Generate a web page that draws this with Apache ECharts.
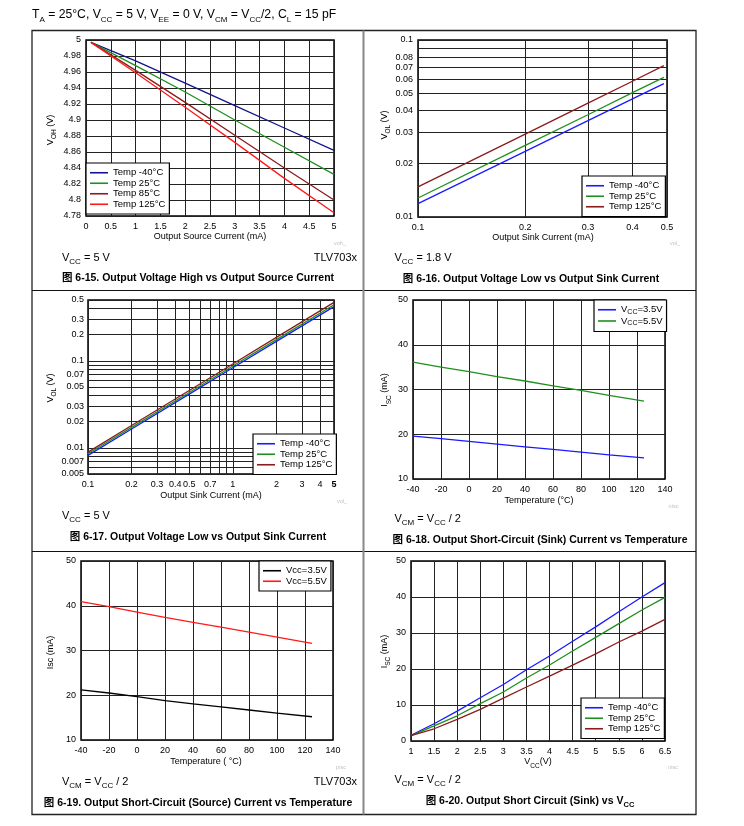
<!DOCTYPE html>
<html>
<head>
<meta charset="utf-8">
<script src="https://cdn.jsdelivr.net/npm/echarts@6/dist/echarts.min.js"></script>
<style>html,body{margin:0;padding:0;background:#fff}#c{width:744px;height:826px}</style>
</head>
<body>
<div id="c"></div>
<script>
// ---------- data ----------
const p1X = [0.1, 1, 2, 3, 4, 5];
const p1M40 = [4.997, 4.974, 4.946, 4.918, 4.890, 4.862];
const p1T25 = [4.997, 4.968, 4.935, 4.900, 4.866, 4.832];
const p1T85 = [4.997, 4.962, 4.922, 4.881, 4.840, 4.800];
const p1T125 = [4.997, 4.959, 4.916, 4.872, 4.827, 4.784];

const p2X = [0.1, 0.2, 0.3, 0.4, 0.49];
const p2M40 = [0.0119, 0.0235, 0.0350, 0.0465, 0.0567];
const p2T25 = [0.0128, 0.0254, 0.0378, 0.0504, 0.0615];
const p2T125 = [0.0148, 0.0294, 0.0440, 0.0585, 0.0716];

const p3X = [0.1, 0.2, 0.5, 1, 2, 5];
const p3M40 = [0.00818, 0.01644, 0.0414, 0.0832, 0.1671, 0.420];
const p3T25 = [0.00855, 0.01718, 0.0433, 0.0871, 0.175, 0.4416];
const p3T125 = [0.00893, 0.01803, 0.0456, 0.0920, 0.1858, 0.470];

const p4X = [-40, -20, 0, 20, 40, 60, 80, 100, 125];
const p4V35 = [19.6, 19.0, 18.4, 17.8, 17.2, 16.6, 16.0, 15.4, 14.7];
const p4V55 = [36.1, 35.0, 34.0, 32.9, 31.9, 30.8, 29.8, 28.7, 27.4];

const p5X = [-40, -20, 0, 20, 40, 60, 80, 100, 125];
const p5V35 = [21.2, 20.5, 19.7, 18.8, 18.05, 17.4, 16.7, 16.0, 15.2];
const p5V55 = [40.9, 39.8, 38.6, 37.4, 36.3, 35.2, 34.1, 33.0, 31.6];

const p6X = [1, 1.5, 2, 2.5, 3, 3.5, 4, 4.5, 5, 5.5, 6, 6.5];
const p6M40 = [1.6, 4.8, 8.3, 12.0, 15.7, 19.8, 23.6, 27.7, 31.7, 35.9, 40.0, 44.0];
const p6T25 = [1.5, 4.2, 7.0, 10.4, 13.6, 17.5, 21.1, 25.0, 28.8, 32.6, 36.4, 39.9];
const p6T125 = [1.5, 3.4, 6.0, 8.8, 11.9, 15.0, 18.0, 21.1, 24.2, 27.5, 30.5, 33.8];

// tick values for log axes
const p2XTicks = [0.1, 0.2, 0.3, 0.4, 0.5];
const p2YTicks = [0.01, 0.02, 0.03, 0.04, 0.05, 0.06, 0.07, 0.08, 0.09, 0.1];
const p2YLabels = [0.01, 0.02, 0.03, 0.04, 0.05, 0.06, 0.07, 0.08, 0.1];
const p3XTicks = [0.1, 0.2, 0.3, 0.4, 0.5, 0.6, 0.7, 0.8, 0.9, 1, 2, 3, 4, 5];
const p3XLabels = [0.1, 0.2, 0.3, 0.4, 0.5, 0.7, 1, 2, 3, 4, 5];
const p3YTicks = [0.005, 0.006, 0.007, 0.008, 0.009, 0.01, 0.02, 0.03, 0.04, 0.05, 0.06, 0.07, 0.08, 0.09, 0.1, 0.2, 0.3, 0.4, 0.5];
const p3YLabels = [0.005, 0.007, 0.01, 0.02, 0.03, 0.05, 0.07, 0.1, 0.2, 0.3, 0.5];

// ---------- helpers ----------
const FONT = '"Liberation Sans", Arial, "Noto Sans CJK SC", sans-serif';
const GRID_COLOR = '#222';
const pairs = (xs, ys) => xs.map((x, i) => [x, ys[i]]);
const fmtNum = v => String(+(+v).toPrecision(3));

function richSet(fs, sfs, weight) {
  return {
    n: { fontSize: fs, fontFamily: FONT, fontWeight: weight || 'normal', lineHeight: fs + 5, fill: '#000', color: '#000' },
    s: { fontSize: sfs, fontFamily: FONT, fontWeight: weight || 'normal', lineHeight: sfs + 1, verticalAlign: 'bottom', fill: '#000', color: '#000' }
  };
}

function txt(x, y, text, o) {
  o = o || {};
  const fs = o.fs || 9;
  return {
    type: 'text', x: x, y: y, rotation: o.rot || 0, z: 100,
    style: {
      text: text, fontSize: fs, fontFamily: FONT, fontWeight: o.bold ? 'bold' : 'normal',
      fill: o.color || '#000', align: o.align || 'left', verticalAlign: 'middle',
      rich: richSet(fs, o.sfs || Math.round(fs * 0.7), o.bold ? 'bold' : 'normal')
    }
  };
}

function axisBase(gi, extra) {
  return Object.assign({
    gridIndex: gi,
    axisLine: { show: false },
    axisTick: { show: false },
    splitLine: { show: true, lineStyle: { color: GRID_COLOR, width: 1 } },
    axisLabel: { fontSize: 9, color: '#000', fontFamily: FONT, margin: 5, formatter: fmtNum },
    minorTick: { show: false }, minorSplitLine: { show: false }
  }, extra);
}

function lineSeries(name, xi, xs, ys, color) {
  return {
    type: 'line', name: name, xAxisIndex: xi, yAxisIndex: xi,
    data: pairs(xs, ys), symbol: 'none', smooth: false,
    lineStyle: { color: color, width: 1.3 }, itemStyle: { color: color },
    z: 5, silent: true, animation: false
  };
}

function legend(names, labels, left, top) {
  const map = {};
  names.forEach((n, i) => map[n] = labels[i]);
  return {
    data: names, orient: 'vertical', left: left, top: top,
    backgroundColor: '#fff', borderColor: '#000', borderWidth: 1.2, borderRadius: 0,
    padding: [5, 4, 5, 4], itemGap: 1, itemWidth: 18, itemHeight: 1.6,
    icon: 'rect',
    selectedMode: false,
    formatter: n => map[n],
    textStyle: { fontSize: 9.5, fontFamily: FONT, color: '#000',
      rich: { n: { fontSize: 9.5, fontFamily: FONT, color: '#000', lineHeight: 11 },
              s: { fontSize: 7, fontFamily: FONT, color: '#000', lineHeight: 8, verticalAlign: 'bottom' } } },
    z: 20
  };
}

const gridBase = { show: true, borderColor: '#000', borderWidth: 1.5, backgroundColor: 'transparent', containLabel: false };

const C = {
  navy: '#14148c', green: '#1f8f1f', brown: '#8b1c1c', red: '#ff1a1a',
  blue: '#1a1aff', black: '#000'
};

const option = {
  backgroundColor: '#fff',
  animation: false,
  grid: [
    Object.assign({ left: 86, top: 40, width: 248, height: 176 }, gridBase),
    Object.assign({ left: 418, top: 40, width: 249, height: 177 }, gridBase),
    Object.assign({ left: 88, top: 300, width: 246, height: 174 }, gridBase),
    Object.assign({ left: 413, top: 300, width: 252, height: 179 }, gridBase),
    Object.assign({ left: 81, top: 561, width: 252, height: 179 }, gridBase),
    Object.assign({ left: 411, top: 561, width: 254, height: 180 }, gridBase)
  ],
  xAxis: [
    axisBase(0, { type: 'value', min: 0, max: 5, interval: 0.5, axisLabel: { fontSize: 9, color: '#000', fontFamily: FONT, margin: 6 } }),
    axisBase(1, { type: 'log', logBase: 10, min: 0.1, max: 0.5,
      axisTick: { show: false, customValues: p2XTicks },
      axisLabel: { fontSize: 9, color: '#000', fontFamily: FONT, margin: 6, customValues: p2XTicks, formatter: fmtNum } }),
    axisBase(2, { type: 'log', logBase: 10, min: 0.1, max: 5,
      axisTick: { show: false, customValues: p3XTicks },
      axisLabel: { fontSize: 9, color: '#000', fontFamily: FONT, margin: 6, customValues: p3XLabels,
        formatter: v => { const s = fmtNum(v); return s === '5' ? '{b|5}' : s; },
        rich: { b: { fontWeight: 'bold', fontSize: 9, fontFamily: FONT, color: '#000' } } } }),
    axisBase(3, { type: 'value', min: -40, max: 140, interval: 20, axisLabel: { fontSize: 9, color: '#000', fontFamily: FONT, margin: 6 } }),
    axisBase(4, { type: 'value', min: -40, max: 140, interval: 20, axisLabel: { fontSize: 9, color: '#000', fontFamily: FONT, margin: 6 } }),
    axisBase(5, { type: 'value', min: 1, max: 6.5, interval: 0.5, axisLabel: { fontSize: 9, color: '#000', fontFamily: FONT, margin: 6 } })
  ],
  yAxis: [
    axisBase(0, { type: 'value', min: 4.78, max: 5, interval: 0.02 }),
    axisBase(1, { type: 'log', logBase: 10, min: 0.01, max: 0.1,
      axisTick: { show: false, customValues: p2YTicks },
      axisLabel: { fontSize: 9, color: '#000', fontFamily: FONT, margin: 5, customValues: p2YLabels, formatter: fmtNum } }),
    axisBase(2, { type: 'log', logBase: 10, min: 0.005, max: 0.5,
      axisTick: { show: false, customValues: p3YTicks },
      axisLabel: { fontSize: 9, color: '#000', fontFamily: FONT, margin: 4, customValues: p3YLabels, formatter: fmtNum } }),
    axisBase(3, { type: 'value', min: 10, max: 50, interval: 10 }),
    axisBase(4, { type: 'value', min: 10, max: 50, interval: 10 }),
    axisBase(5, { type: 'value', min: 0, max: 50, interval: 10 })
  ],
  legend: [
    legend(['a1', 'a2', 'a3', 'a4'], ['Temp -40°C', 'Temp 25°C', 'Temp 85°C', 'Temp 125°C'], 86, 163),
    legend(['b1', 'b2', 'b3'], ['Temp -40°C', 'Temp 25°C', 'Temp 125°C'], 582, 176),
    legend(['c1', 'c2', 'c3'], ['Temp -40°C', 'Temp 25°C', 'Temp 125°C'], 253, 434),
    legend(['d1', 'd2'], ['{n|V}{s|CC}{n|=3.5V}', '{n|V}{s|CC}{n|=5.5V}'], 594, 300),
    legend(['e1', 'e2'], ['Vcc=3.5V', 'Vcc=5.5V'], 259, 561),
    legend(['f1', 'f2', 'f3'], ['Temp -40°C', 'Temp 25°C', 'Temp 125°C'], 581, 698)
  ],
  series: [
    lineSeries('a1', 0, p1X, p1M40, C.navy),
    lineSeries('a2', 0, p1X, p1T25, C.green),
    lineSeries('a3', 0, p1X, p1T85, C.brown),
    lineSeries('a4', 0, p1X, p1T125, C.red),
    lineSeries('b1', 1, p2X, p2M40, C.blue),
    lineSeries('b2', 1, p2X, p2T25, C.green),
    lineSeries('b3', 1, p2X, p2T125, C.brown),
    lineSeries('c1', 2, p3X, p3M40, C.blue),
    lineSeries('c2', 2, p3X, p3T25, C.green),
    lineSeries('c3', 2, p3X, p3T125, C.brown),
    lineSeries('d1', 3, p4X, p4V35, C.blue),
    lineSeries('d2', 3, p4X, p4V55, C.green),
    lineSeries('e1', 4, p5X, p5V35, C.black),
    lineSeries('e2', 4, p5X, p5V55, C.red),
    lineSeries('f1', 5, p6X, p6M40, C.blue),
    lineSeries('f2', 5, p6X, p6T25, C.green),
    lineSeries('f3', 5, p6X, p6T125, C.brown)
  ],
  graphic: [
    // frame
    { type: 'rect', shape: { x: 32, y: 30.5, width: 664, height: 784 }, style: { fill: 'none', stroke: '#222', lineWidth: 1.3 }, z: 1 },
    { type: 'line', shape: { x1: 32, y1: 290.5, x2: 696, y2: 290.5 }, style: { stroke: '#111', lineWidth: 1 }, z: 1 },
    { type: 'line', shape: { x1: 32, y1: 551.5, x2: 696, y2: 551.5 }, style: { stroke: '#111', lineWidth: 1 }, z: 1 },
    { type: 'line', shape: { x1: 363.5, y1: 30.5, x2: 363.5, y2: 814.5 }, style: { stroke: '#888', lineWidth: 2 }, z: 1 },
    // title
    txt(32, 15, '{n|T}{s|A}{n| = 25°C, V}{s|CC}{n| = 5 V, V}{s|EE}{n| = 0 V, V}{s|CM}{n| = V}{s|CC}{n|/2, C}{s|L}{n| = 15 pF}', { fs: 12.2, sfs: 8 }),
    // panel 1
    txt(50.5, 130, '{n|V}{s|OH}{n| (V)}', { fs: 9, sfs: 6.5, rot: Math.PI / 2, align: 'center' }),
    txt(210, 237, 'Output Source Current (mA)', { fs: 9, align: 'center' }),
    txt(340, 243, 'voh_', { fs: 5.5, color: '#c0c0c0', align: 'center' }),
    txt(62, 258, '{n|V}{s|CC}{n| = 5 V}', { fs: 11, sfs: 8 }),
    txt(357, 258, 'TLV703x', { fs: 11, align: 'right' }),
    txt(198, 278, '图 6-15. Output Voltage High vs Output Source Current', { fs: 10.5, bold: true, align: 'center' }),
    // panel 2
    txt(384.5, 125, '{n|V}{s|OL}{n| (V)}', { fs: 9, sfs: 6.5, rot: Math.PI / 2, align: 'center' }),
    txt(543, 238, 'Output Sink Current (mA)', { fs: 9, align: 'center' }),
    txt(675, 243, 'vol_', { fs: 5.5, color: '#c0c0c0', align: 'center' }),
    txt(394.5, 258, '{n|V}{s|CC}{n| = 1.8 V}', { fs: 11, sfs: 8 }),
    txt(531, 279, '图 6-16. Output Voltage Low vs Output Sink Current', { fs: 10.5, bold: true, align: 'center' }),
    // panel 3
    txt(50.5, 388, '{n|V}{s|OL}{n| (V)}', { fs: 9, sfs: 6.5, rot: Math.PI / 2, align: 'center' }),
    txt(211, 496, 'Output Sink Current (mA)', { fs: 9, align: 'center' }),
    txt(342, 501, 'vol_', { fs: 5.5, color: '#c0c0c0', align: 'center' }),
    txt(62, 516, '{n|V}{s|CC}{n| = 5 V}', { fs: 11, sfs: 8 }),
    txt(198, 537, '图 6-17. Output Voltage Low vs Output Sink Current', { fs: 10.5, bold: true, align: 'center' }),
    // panel 4
    txt(385, 390, '{n|I}{s|SC}{n| (mA)}', { fs: 9, sfs: 6.5, rot: Math.PI / 2, align: 'center' }),
    txt(539, 501, 'Temperature (°C)', { fs: 9, align: 'center' }),
    txt(673.5, 506, 'nisc', { fs: 5.5, color: '#c0c0c0', align: 'center' }),
    txt(394.5, 519, '{n|V}{s|CM}{n| = V}{s|CC}{n| / 2}', { fs: 11, sfs: 8 }),
    txt(540, 540, '图 6-18. Output Short-Circuit (Sink) Current vs Temperature', { fs: 10.5, bold: true, align: 'center' }),
    // panel 5
    txt(51, 652.5, 'Isc (mA)', { fs: 9, rot: Math.PI / 2, align: 'center' }),
    txt(206, 762, 'Temperature ( °C)', { fs: 9, align: 'center' }),
    txt(341, 767, 'pisc', { fs: 5.5, color: '#c0c0c0', align: 'center' }),
    txt(62, 782, '{n|V}{s|CM}{n| = V}{s|CC}{n| / 2}', { fs: 11, sfs: 8 }),
    txt(357, 782, 'TLV703x', { fs: 11, align: 'right' }),
    txt(198, 803, '图 6-19. Output Short-Circuit (Source) Current vs Temperature', { fs: 10.5, bold: true, align: 'center' }),
    // panel 6
    txt(384.5, 651.5, '{n|I}{s|SC}{n| (mA)}', { fs: 9, sfs: 6.5, rot: Math.PI / 2, align: 'center' }),
    txt(538, 762, '{n|V}{s|CC}{n|(V)}', { fs: 9, sfs: 6.5, align: 'center' }),
    txt(673, 767, 'nisc', { fs: 5.5, color: '#c0c0c0', align: 'center' }),
    txt(394.5, 780, '{n|V}{s|CM}{n| = V}{s|CC}{n| / 2}', { fs: 11, sfs: 8 }),
    txt(530, 801, '图 6-20. Output Short Circuit (Sink) vs {n|V}{s|CC}', { fs: 10.5, sfs: 7.5, bold: true, align: 'center' })
  ]
};

const chart = echarts.init(document.getElementById('c'), null, { renderer: 'canvas', width: 744, height: 826 });
chart.setOption(option);
</script>
</body>
</html>
